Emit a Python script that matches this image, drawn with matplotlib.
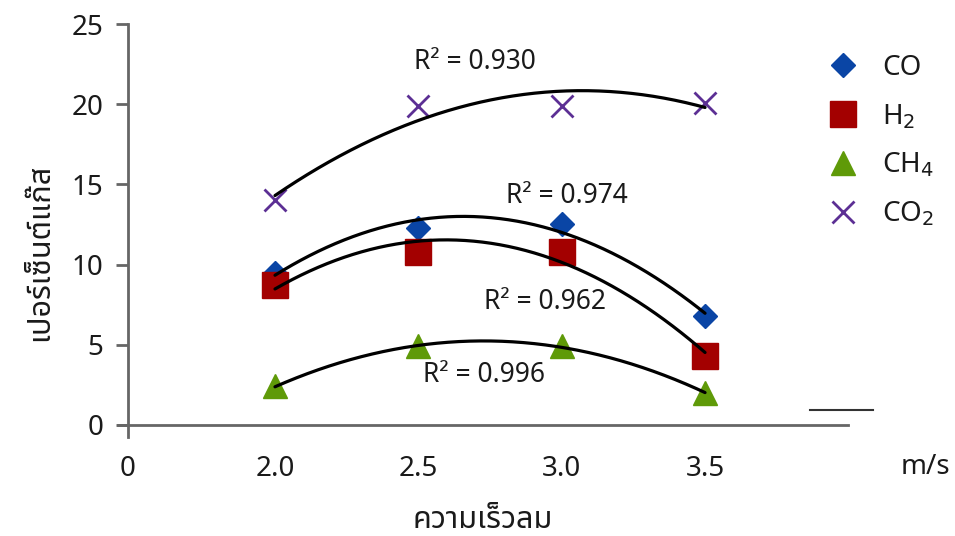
import numpy as np
import matplotlib
matplotlib.use("Agg")
import matplotlib.pyplot as plt
from matplotlib.lines import Line2D

plt.rcParams['font.family'] = ['Noto Sans', 'Noto Sans Thai', 'DejaVu Sans']

# ---- data ----
speeds = [2.0, 2.5, 3.0, 3.5]
tick_labels = ["2.0", "2.5", "3.0", "3.5"]
co = [9.5, 12.3, 12.5, 6.8]
h2 = [8.7, 10.8, 10.8, 4.3]
ch4 = [2.4, 4.9, 4.9, 2.0]
co2 = [14.0, 19.9, 19.9, 20.1]
series_names = ["CO", "H$_2$", "CH$_4$", "CO$_2$"]
r2_labels = ["R² = 0.974", "R² = 0.962", "R² = 0.996", "R² = 0.930"]
y_ticks = [0, 5, 10, 15, 20, 25]
y_label = "เปอร์เซ็นต์แก๊ส"
x_label = "ความเร็วลม"
unit_label = "m/s"

# ---- style ----
colors = ["#0a45a5", "#a30000", "#5f9a08", "#5c2f94"]
markers = ["D", "s", "^", "x"]
msizes = [12.5, 18.5, 17.5, 16.5]
r2_pos = [(3.018, 14.28), (2.942, 7.67), (2.729, 3.12), (2.698, 22.63)]
thai_family = ['Noto Sans Thai', 'Noto Sans', 'DejaVu Sans']

fig = plt.figure(figsize=(9.55, 5.36), dpi=100)
x_left, x_right = 1.4873, 3.9986
ax = fig.add_axes([128/955, 1-437/536, (848-128)/955, (437-24)/536])
ax.set_xlim(x_left, x_right)
ax.set_ylim(-0.75, 25)

all_series = [co, h2, ch4, co2]
handles = []
for vals, name, c, m, ms in zip(all_series, series_names, colors, markers, msizes):
    if m == "x":
        ax.plot(speeds, vals, linestyle="none", marker=m, ms=ms, color=c,
                mew=2.0, zorder=3, clip_on=False)
        h = Line2D([], [], linestyle="none", marker=m, ms=ms, color=c, mew=2.0)
    else:
        ax.plot(speeds, vals, linestyle="none", marker=m, ms=ms, color=c,
                mec=c, zorder=3, clip_on=False)
        h = Line2D([], [], linestyle="none", marker=m, ms=ms, color=c, mec=c)
    handles.append(h)
    coef = np.polyfit(speeds, vals, 2)
    xs = np.linspace(speeds[0], speeds[-1], 200)
    ax.plot(xs, np.polyval(coef, xs), color="black", lw=2.3, zorder=4,
            solid_capstyle="round")

for txt, (px, py) in zip(r2_labels, r2_pos):
    ax.text(px, py, txt, ha="center", va="center", fontsize=19, color="#1a1a1a")

# axes styling
for s in ["top", "right", "bottom"]:
    ax.spines[s].set_visible(False)
ax.spines["left"].set_color("#666666")
ax.spines["left"].set_linewidth(2.0)
ax.axhline(0, xmin=-10/720, xmax=1.0, color="#666666", lw=2.0, clip_on=False, zorder=1)

ax.set_yticks(y_ticks)
ax.set_yticklabels([str(v) for v in y_ticks])
ax.tick_params(axis="y", direction="out", length=9, width=2.0, color="#666666",
               labelsize=20, pad=9, labelcolor="#1a1a1a")
ax.set_xticks([x_left] + speeds)
ax.set_xticklabels(["0"] + tick_labels)
ax.tick_params(axis="x", length=0, labelsize=20, pad=13, labelcolor="#1a1a1a")

fig.text(925/955, 1-467/536, unit_label, ha="center", va="center", fontsize=20, color="#1a1a1a")
fig.text(483/955, 1-520/536, x_label, ha="center", va="center", fontsize=22,
         color="#1a1a1a", family=thai_family)
fig.text(40/955, 1-252/536, y_label, ha="center", va="center", fontsize=22,
         rotation=90, color="#1a1a1a", family=thai_family)

# stray short line
fig.add_artist(Line2D([810/955, 873/955], [1-410/536, 1-410/536], color="#333333", lw=1.5))

leg = fig.legend(handles=handles, labels=series_names, loc="upper left",
                 bbox_to_anchor=(831/955, 1-54/536), frameon=False, fontsize=20,
                 handlelength=0.85, handletextpad=1.0, labelspacing=0.72,
                 borderaxespad=0, borderpad=0)
for t in leg.get_texts():
    t.set_color("#1a1a1a")

fig.savefig("out.png", dpi=100)
